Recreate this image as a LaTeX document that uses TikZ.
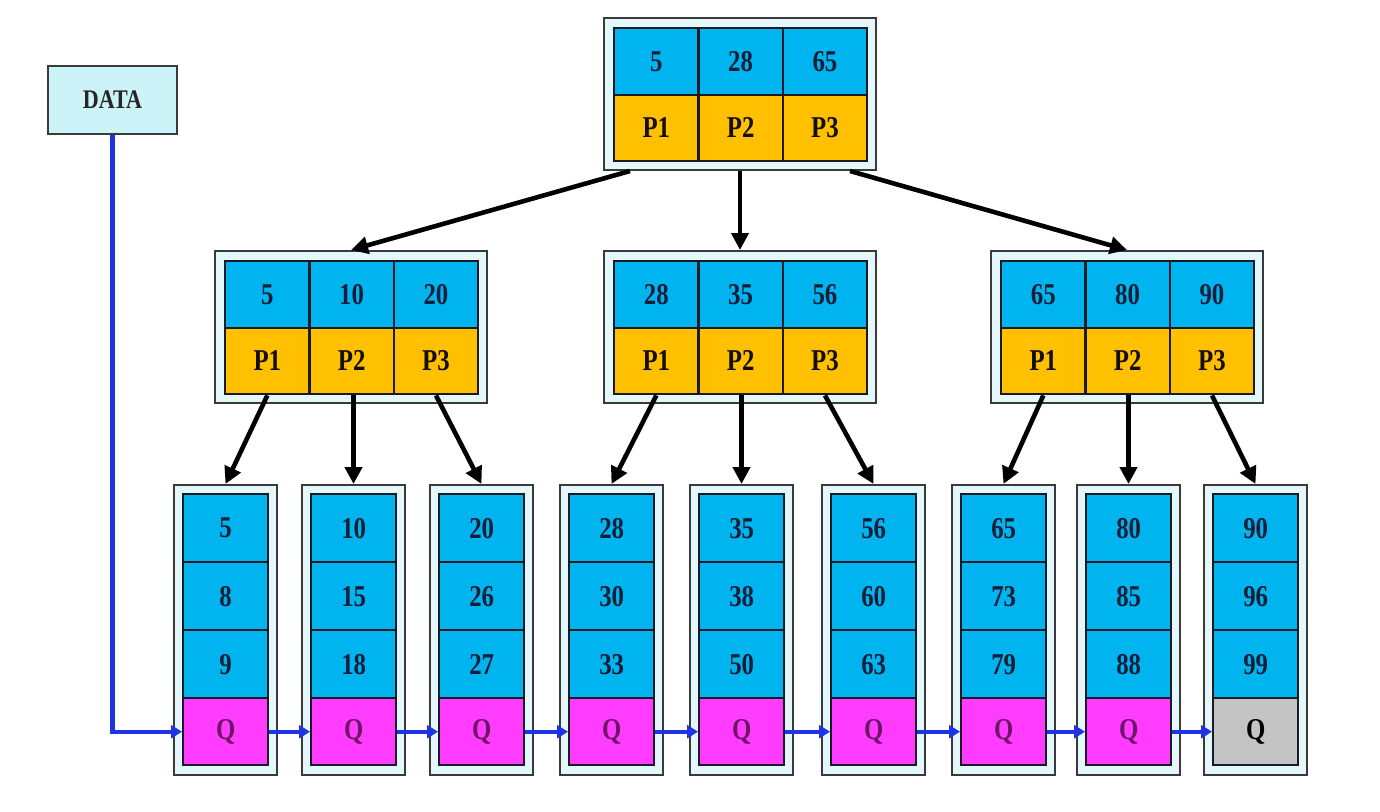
\documentclass[tikz,border=0pt]{standalone}
\usepackage{fontspec}
\usepackage{graphicx}
\setmainfont{Liberation Serif}
\usetikzlibrary{arrows.meta,calc}
\definecolor{keyblue}{HTML}{00B4F0}
\definecolor{ptrorange}{HTML}{FFC000}
\definecolor{qpink}{HTML}{FF3CFF}
\definecolor{qgray}{HTML}{C4C4C4}
\definecolor{framefill}{HTML}{E4F8FC}
\definecolor{datafill}{HTML}{CCF4F8}
\definecolor{framedraw}{HTML}{3A3A3A}
\definecolor{cellline}{HTML}{1A1A24}
\definecolor{keytext}{HTML}{141E38}
\definecolor{ptrtext}{HTML}{140E04}
\definecolor{qtext}{HTML}{6E1466}
\definecolor{linkblue}{HTML}{1E32E6}
\newcommand\tx[1]{\scalebox{0.92}[1.12]{#1}}
\tikzset{
  frame/.style={draw=framedraw, fill=framefill, line width=2pt, inner sep=0pt, anchor=north west},
  cellbase/.style={draw=cellline, line width=2.4pt, inner sep=0pt, anchor=north west,
    font=\bfseries\fontsize{27}{27}\selectfont},
  kcell/.style={cellbase, fill=keyblue, text=keytext},
  pcell/.style={cellbase, fill=ptrorange, text=ptrtext},
  qcell/.style={cellbase, fill=qpink, text=qtext},
  qend/.style={cellbase, fill=qgray, text=black},
  databox/.style={draw=framedraw, fill=datafill, line width=2pt, anchor=north west,
    minimum width=129pt, minimum height=68pt, inner sep=0pt,
    font=\bfseries\fontsize{24}{24}\selectfont, text=black!85},
  tarrow/.style={draw=black, line width=4.6pt, -{Triangle[length=17pt,width=17pt]}},
  barrow/.style={draw=linkblue, line width=4.4pt, -{Triangle[length=11pt,width=13pt]}},
}
\newcommand\bpnode[4]{%
  \node[frame, minimum width=272pt, minimum height=152pt] (#1) at ({#2-10},{#3-10}) {};
  \foreach \k [count=\i] in {#4}{%
    \node[kcell, minimum width=84.3pt, minimum height=66.5pt] (#1-k\i) at ({#2+(\i-1)*84.3},#3) {\tx{\k}};
    \node[pcell, minimum width=84.3pt, minimum height=66.5pt] (#1-p\i) at ({#2+(\i-1)*84.3},{#3+66.5}) {\tx{P\i}};
  }%
}
\newcommand\bleaf[4]{%
  \node[frame, minimum width=103pt, minimum height=290pt] (#1) at ({#2-9},484) {};
  \foreach \k [count=\i] in {#3}{%
    \node[kcell, minimum width=85pt, minimum height=68pt] (#1-k\i) at (#2,{493+(\i-1)*68}) {\tx{\k}};
  }%
  \node[#4, minimum width=85pt, minimum height=67pt] (#1-q) at (#2,697) {\tx{Q}};
}
\begin{document}
\begin{tikzpicture}[x=1pt,y=-1pt]
\useasboundingbox (0,0) rectangle (1380,811);
\fill[white] (0,0) rectangle (1380,811);
% DATA
\node[databox] (data) at (47,65) {\tx{DATA}};
% internal nodes
\bpnode{root}{613}{27}{5,28,65}
\bpnode{mL}{224}{260}{5,10,20}
\bpnode{mM}{613}{260}{28,35,56}
\bpnode{mR}{1000}{260}{65,80,90}
% leaves
\bleaf{L1}{182}{5,8,9}{qcell}
\bleaf{L2}{310}{10,15,18}{qcell}
\bleaf{L3}{438}{20,26,27}{qcell}
\bleaf{L4}{568}{28,30,33}{qcell}
\bleaf{L5}{698}{35,38,50}{qcell}
\bleaf{L6}{830}{56,60,63}{qcell}
\bleaf{L7}{960}{65,73,79}{qcell}
\bleaf{L8}{1085}{80,85,88}{qcell}
\bleaf{L9}{1212}{90,96,99}{qend}
% tree arrows
\draw[tarrow] ($(root.south west)+(27,0)$) -- (mL.north);
\draw[tarrow] (root.south) -- (mM.north);
\draw[tarrow] ($(root.south east)+(-27,0)$) -- (mR.north);
\draw[tarrow] (mL-p1.south) -- (L1.north);
\draw[tarrow] (L2.north |- mL-p2.south) -- (L2.north);
\draw[tarrow] (mL-p3.south) -- (L3.north);
\draw[tarrow] (mM-p1.south) -- (L4.north);
\draw[tarrow] (L5.north |- mM-p2.south) -- (L5.north);
\draw[tarrow] (mM-p3.south) -- (L6.north);
\draw[tarrow] (mR-p1.south) -- (L7.north);
\draw[tarrow] (L8.north |- mR-p2.south) -- (L8.north);
\draw[tarrow] (mR-p3.south) -- (L9.north);
% leaf chain
\draw[barrow] (data.south) |- (L1-q.west);
\foreach \a/\b in {L1/L2,L2/L3,L3/L4,L4/L5,L5/L6,L6/L7,L7/L8,L8/L9}{
  \draw[barrow] (\a-q.east) -- (\b-q.west);
}
\end{tikzpicture}
\end{document}
